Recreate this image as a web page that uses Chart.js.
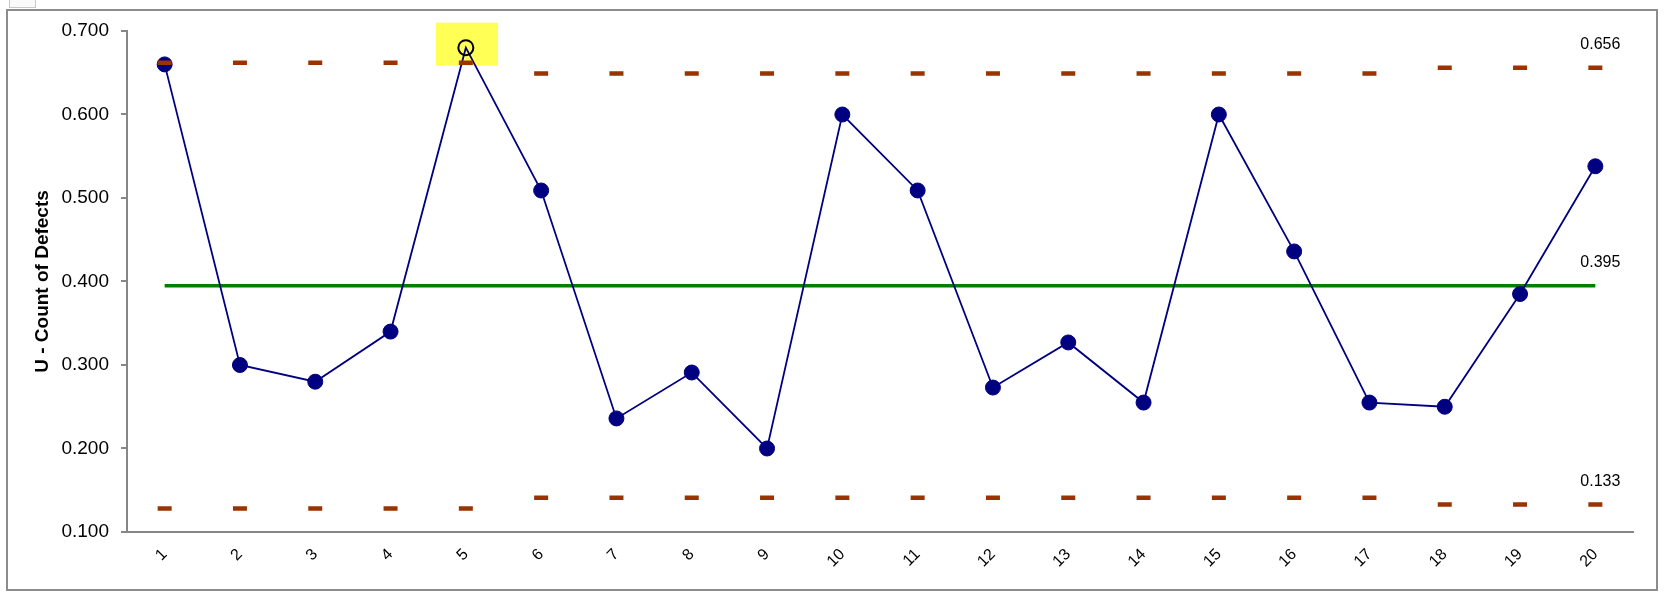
<!DOCTYPE html>
<html><head><meta charset="utf-8">
<script src="https://cdn.jsdelivr.net/npm/chart.js@4.4.0/dist/chart.umd.min.js"></script>
<style>
html,body{margin:0;padding:0;background:#fff;}
#wrap{position:relative;width:1666px;height:596px;overflow:hidden;}
#frame{position:absolute;left:6px;top:9px;width:1648px;height:578px;border:2px solid #8c8c8c;}
#icon{position:absolute;left:9px;top:-2px;width:25px;height:8px;border:1px solid #c8c8c8;background:#fafafa;}
canvas{position:absolute;left:0;top:0;}
</style></head><body>
<div id="wrap"><div id="frame"></div><div id="icon"></div><canvas id="c" width="1666" height="596"></canvas></div>
<script>
const categories = ['1','2','3','4','5','6','7','8','9','10','11','12','13','14','15','16','17','18','19','20'];
const uValues = [0.660,0.300,0.280,0.340,0.680,0.509,0.236,0.291,0.200,0.600,0.509,0.273,0.327,0.255,0.600,0.436,0.255,0.250,0.385,0.538];
const uclValues = [0.662,0.662,0.662,0.662,0.662,0.649,0.649,0.649,0.649,0.649,0.649,0.649,0.649,0.649,0.649,0.649,0.649,0.656,0.656,0.656];
const lclValues = [0.128,0.128,0.128,0.128,0.128,0.141,0.141,0.141,0.141,0.141,0.141,0.141,0.141,0.141,0.141,0.141,0.141,0.133,0.133,0.133];
const centerValues = [0.395,0.395,0.395,0.395,0.395,0.395,0.395,0.395,0.395,0.395,0.395,0.395,0.395,0.395,0.395,0.395,0.395,0.395,0.395,0.395];
const flaggedPoints = ['5'];
const yTicks = [0.1,0.2,0.3,0.4,0.5,0.6,0.7];

const FONT = "'Liberation Sans', Arial, sans-serif";
const isFlag = i => flaggedPoints.includes(categories[i]);

const highlightPlugin = {
  id: 'highlight',
  beforeDatasetsDraw(chart) {
    const meta = chart.getDatasetMeta(0);
    const ctx = chart.ctx;
    ctx.save();
    ctx.fillStyle = '#ffff55';
    meta.data.forEach((el, i) => {
      if (isFlag(i)) ctx.fillRect(el.x - 30, el.y - 25, 62, 43);
    });
    ctx.restore();
  }
};

const limitLabelPlugin = {
  id: 'limitLabels',
  afterDatasetsDraw(chart) {
    const ctx = chart.ctx;
    const xs = chart.scales.x, ys = chart.scales.y;
    const last = categories.length - 1;
    const x = xs.getPixelForValue(last);
    ctx.save();
    ctx.font = "16px " + FONT;
    ctx.fillStyle = '#000';
    ctx.textAlign = 'center';
    ctx.textBaseline = 'middle';
    [uclValues[last], centerValues[last], lclValues[last]].forEach(v => {
      ctx.fillText(v.toFixed(3), x + 5, ys.getPixelForValue(v) - 23);
    });
    ctx.restore();
  }
};

new Chart(document.getElementById('c'), {
  type: 'line',
  data: {
    labels: categories,
    datasets: [
      {
        data: uValues, order: 1,
        borderColor: '#000080', borderWidth: 1.8,
        pointRadius: 7.5,
        pointBackgroundColor: ctx => isFlag(ctx.dataIndex) ? 'rgba(0,0,0,0)' : '#000080',
        pointBorderColor: ctx => isFlag(ctx.dataIndex) ? '#000000' : '#000080',
        pointBorderWidth: ctx => isFlag(ctx.dataIndex) ? 2 : 1,
        tension: 0
      },
      {
        data: centerValues, order: 2,
        borderColor: '#008000', borderWidth: 3.5, pointRadius: 0
      },
      {
        data: uclValues, order: 0, showLine: false,
        pointStyle: 'line', pointRadius: 7, pointBorderWidth: 4.5,
        pointBorderColor: '#993300', pointBackgroundColor: '#993300'
      },
      {
        data: lclValues, order: 0, showLine: false,
        pointStyle: 'line', pointRadius: 7, pointBorderWidth: 4.5,
        pointBorderColor: '#993300', pointBackgroundColor: '#993300'
      }
    ]
  },
  options: {
    responsive: false,
    animation: false,
    events: [],
    layout: { padding: { top: 31, right: 33, left: 0, bottom: 0 } },
    plugins: { legend: { display: false }, tooltip: { enabled: false } },
    scales: {
      x: {
        type: 'category', offset: true,
        grid: { display: true, drawOnChartArea: false, drawTicks: false },
        border: { display: true, color: '#868686', width: 2 },
        ticks: { minRotation: 45, maxRotation: 45, color: '#000', font: { family: FONT, size: 16 }, padding: 13 },
        afterFit(s) { s.height = 64; }
      },
      y: {
        min: 0.1, max: 0.7,
        afterBuildTicks(s) { s.ticks = yTicks.map(v => ({ value: v })); },
        ticks: { color: '#000', font: { family: FONT, size: 19 }, padding: 12, callback: v => Number(v).toFixed(3) },
        grid: { drawOnChartArea: false, drawTicks: true, tickLength: 6, color: '#868686', lineWidth: 2 },
        border: { display: true, color: '#868686', width: 2 },
        title: { display: true, text: 'U - Count of Defects', color: '#000', font: { family: FONT, size: 19, weight: 'bold' }, padding: { top: 31, bottom: 0 } },
        afterFit(s) { s.width = 127; }
      }
    }
  },
  plugins: [highlightPlugin, limitLabelPlugin]
});
</script>
</body></html>
